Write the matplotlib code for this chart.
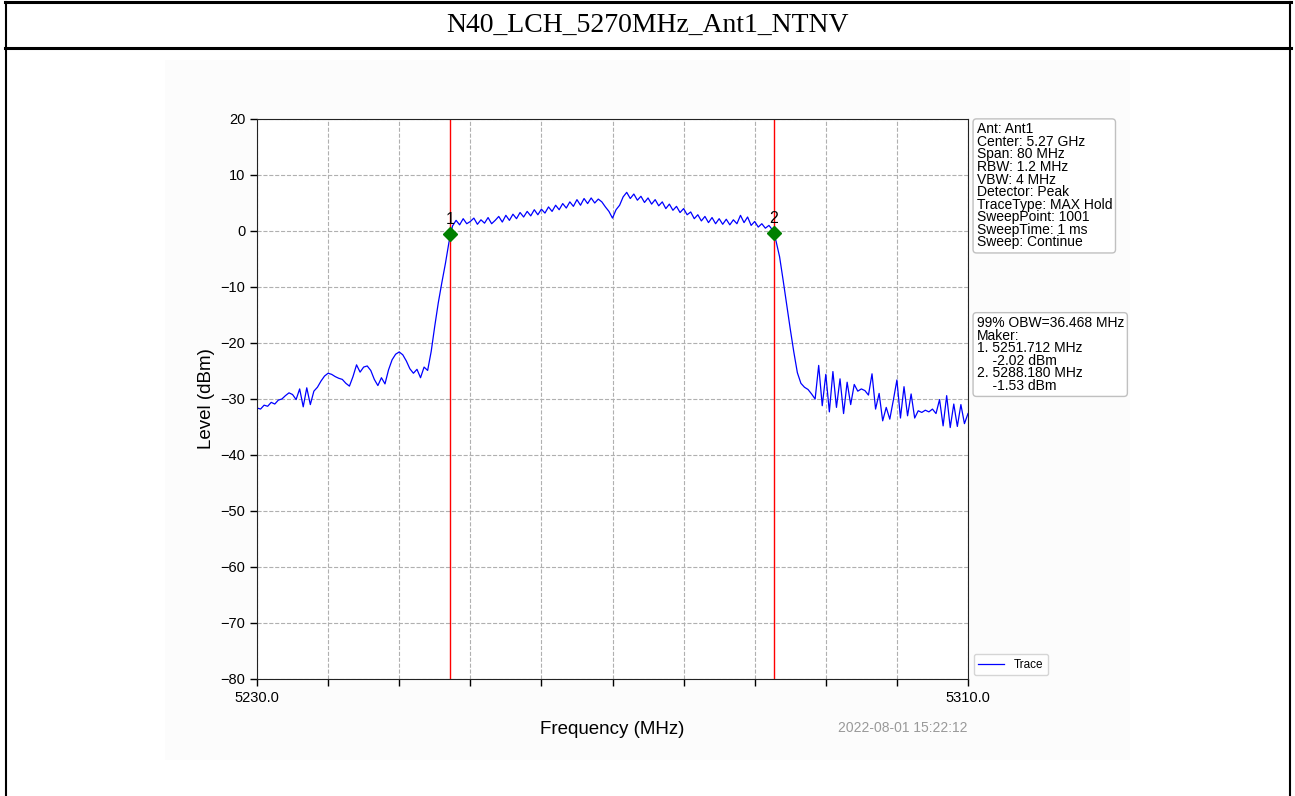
import numpy as np
import matplotlib
matplotlib.use('Agg')
import matplotlib.pyplot as plt
from matplotlib.lines import Line2D
from matplotlib.patches import Rectangle


# Data
title = 'N40_LCH_5270MHz_Ant1_NTNV'
f_start = 5230.0
f_stop = 5310.0

# trace level (dBm), one value every 0.4 MHz
level = [
    -31.6, -31.8, -31.1, -31.3, -30.6, -30.9, -30.2, -30.0, -29.4, -28.9,
    -29.2, -30.1, -28.2, -31.4, -28.0, -31.0, -28.6, -27.9, -26.8, -25.9,
    -25.4, -25.6, -26.0, -26.3, -26.5, -27.2, -27.7, -26.0, -23.9, -25.2,
    -24.3, -24.1, -24.9, -26.5, -27.6, -26.2, -27.3, -24.8, -23.0, -22.0,
    -21.6, -22.1, -23.2, -24.6, -25.4, -24.7, -26.2, -24.3, -24.9, -21.5,
    -17.0, -12.8, -9.2, -5.8, -2.0, 0.9, 1.9, 1.1, 2.2, 1.3,
    1.7, 2.3, 1.2, 2.0, 1.4, 2.4, 1.3, 1.9, 2.6, 1.6,
    2.8, 1.9, 3.0, 2.2, 3.3, 2.5, 3.5, 2.7, 3.8, 2.9,
    3.9, 3.2, 4.3, 3.5, 4.6, 3.8, 4.9, 4.1, 5.2, 4.4,
    5.6, 4.6, 5.8, 4.9, 5.9, 5.0, 5.7, 5.2, 4.3, 3.5,
    2.3, 3.8, 4.6, 6.1, 6.9, 5.8, 6.6, 5.5, 6.2, 5.1,
    5.9, 4.8, 5.6, 4.5, 5.2, 4.0, 4.8, 3.7, 4.4, 3.3,
    4.0, 2.9, 3.4, 2.2, 2.9, 1.8, 2.6, 1.5, 2.4, 1.3,
    2.2, 1.2, 2.1, 1.1, 2.0, 1.3, 2.8, 1.5, 2.5, 1.0,
    1.7, 0.7, 1.3, 0.5, 1.0, 0.2, -1.8, -4.6, -8.8, -13.2,
    -17.5, -21.6, -25.3, -27.2, -27.9, -28.3, -29.1, -30.0, -24.0, -31.2,
    -25.6, -32.3, -25.1, -31.5, -26.4, -32.6, -27.0, -31.0, -27.4, -28.6,
    -28.2, -28.5, -29.3, -25.5, -31.8, -29.0, -33.9, -31.5, -33.6, -30.2,
    -26.6, -33.4, -27.8, -33.0, -29.1, -33.4, -32.1, -32.4, -32.0, -32.3,
    -31.8, -32.6, -30.1, -34.8, -29.4, -35.1, -30.9, -34.9, -31.0, -34.4,
    -32.6,
]

marker_freq = [5251.712, 5288.180]
marker_level = [-0.5, -0.3]
marker_names = ['1', '2']

yticks = [20, 10, 0, -10, -20, -30, -40, -50, -60, -70, -80]

info_text = ('Ant: Ant1\nCenter: 5.27 GHz\nSpan: 80 MHz\nRBW: 1.2 MHz\nVBW: 4 MHz\n'
             'Detector: Peak\nTraceType: MAX Hold\nSweepPoint: 1001\n'
             'SweepTime: 1 ms\nSweep: Continue')
obw_text = ('99% OBW=36.468 MHz\nMaker:\n1. 5251.712 MHz\n    -2.02 dBm\n'
            '2. 5288.180 MHz\n    -1.53 dBm')
stamp = '2022-08-01 15:22:12'


freq = np.linspace(f_start, f_stop, len(level))

plt.rcParams['font.family'] = ['Liberation Sans', 'DejaVu Sans']

fig = plt.figure(figsize=(12.95, 7.96), dpi=100)

# report frame + faint plot background
fig.add_artist(Rectangle((165/1295, 1-760/796), 965/1295, 700/796,
                         transform=fig.transFigure, fc='#fcfcfc', ec='none', zorder=0))
for y in [1-2/796, 1-48/796]:
    fig.add_artist(Line2D([5/1295, 1291/1295], [y, y], color='black', lw=2.2))
for x in [6/1295, 1290/1295]:
    fig.add_artist(Line2D([x, x], [0, 1-2/796], color='black', lw=1.5))
fig.text(0.5, 1-25/796, title, ha='center', va='center',
         family='Liberation Serif', fontsize=20)

ax = fig.add_axes([257/1295, 1-679/796, 711/1295, 560/796])
ax.set_facecolor('white')
ax.plot(freq, level, color='blue', lw=0.9, label='Trace')

for f, l, n in zip(marker_freq, marker_level, marker_names):
    ax.axvline(f, color='red', lw=1)
    ax.plot(f, l, 'D', color='green', ms=7, zorder=5)
    ax.text(f, l + 1.2, n, ha='center', va='bottom', fontsize=11.5)

ax.set_xlim(f_start, f_stop)
ax.set_ylim(-80, 20)
xt = np.linspace(f_start, f_stop, 11)
ax.set_xticks(xt)
ax.set_xticklabels(['%.1f' % v if v in (f_start, f_stop) else '' for v in xt], fontsize=10.5)
ax.set_yticks(yticks)
ax.set_yticklabels(['%d' % v if v >= 0 else '\u2212%d' % -v for v in yticks], fontsize=10.5)
ax.tick_params(length=5, width=1)
ax.grid(True, ls='--', color='#b0b0b0', lw=0.8)
for s in ax.spines.values():
    s.set_color('#222222')
ax.set_xlabel('Frequency (MHz)', fontsize=13.5, labelpad=12)
ax.set_ylabel('Level (dBm)', fontsize=13.5, labelpad=4)

box = dict(boxstyle='round,pad=0.25', fc='white', ec='#c0c0c0', lw=1)
ax.text(1.012, 0.994, info_text, transform=ax.transAxes, ha='left', va='top',
        fontsize=10, linespacing=0.87, bbox=box)
ax.text(1.012, 0.648, obw_text, transform=ax.transAxes, ha='left', va='top',
        fontsize=10, linespacing=0.87, bbox=box)

ax.legend(loc='lower left', bbox_to_anchor=(1.003, 0.0), fontsize=8.5,
          frameon=True, edgecolor='#cccccc', handlelength=2.2, borderaxespad=0.3)

fig.text(968/1295, 1-728/796, stamp, ha='right', va='center', fontsize=10, color='#999999')

fig.savefig('out.png', dpi=100)
